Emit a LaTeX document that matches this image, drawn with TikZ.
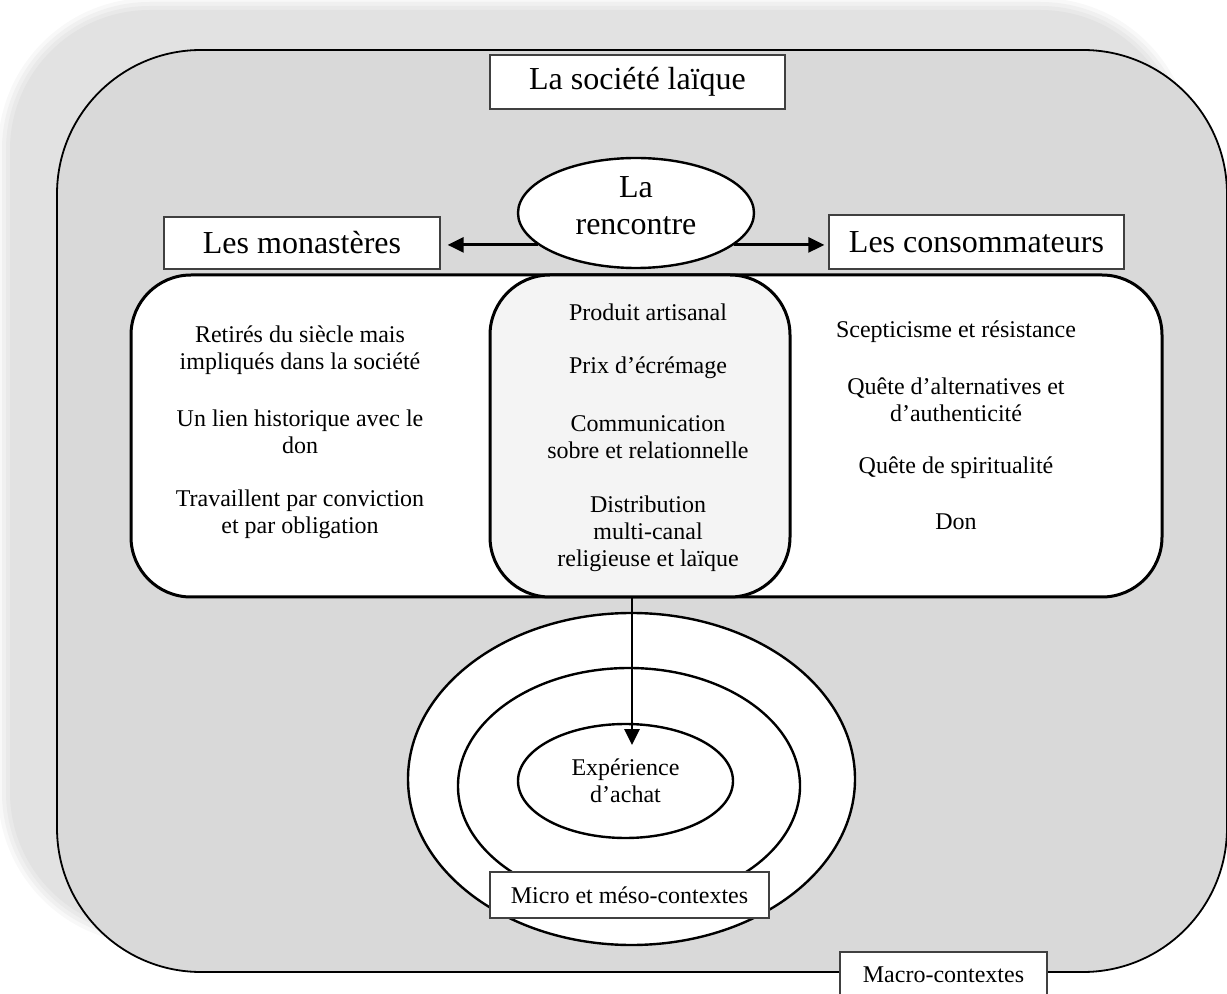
\documentclass[tikz,border=0pt]{standalone}
\usepackage{fontspec}
\setmainfont{Liberation Serif}
\usetikzlibrary{shapes.geometric,arrows.meta}
\definecolor{shadowgray}{HTML}{E2E2E2}
\definecolor{maingray}{HTML}{D9D9D9}
\definecolor{centerfill}{HTML}{F4F4F4}
\begin{document}
\begin{tikzpicture}[x=0.5pt,y=-0.5pt,
  lbl/.style={draw=black!75, line width=0.6pt, fill=white, inner sep=0pt, font=\fontsize{16}{19}\selectfont},
  smalllbl/.style={draw=black!75, line width=0.6pt, fill=white, inner sep=0pt, font=\fontsize{12}{13.6}\selectfont},
  txt/.style={align=center, inner sep=0pt, font=\fontsize{12}{13.6}\selectfont},
  ring/.style={ellipse, draw=black, line width=1.2pt, fill=white, inner sep=0pt},
  panel/.style={draw=black, line width=1.5pt, rounded corners=30pt, inner sep=0pt, minimum height=161pt},
  shadowlayer/.style={inner sep=0pt, minimum width=#1, fill=shadowgray},
  arr/.style={line width=1.4pt, -{Triangle[length=8pt,width=7.5pt]}}]
\useasboundingbox (0,0) rectangle (1227,994);
\clip (0,0) rectangle (1227,994);
% soft shadow
\node[inner sep=0pt, fill=shadowgray!25, rounded corners=76pt, minimum width=597pt, minimum height=473pt] (sh1) at (595,471) {};
\node[inner sep=0pt, fill=shadowgray!50, rounded corners=74pt, minimum width=593pt, minimum height=469pt] (sh2) at (595,471) {};
\node[inner sep=0pt, fill=shadowgray!75, rounded corners=72pt, minimum width=589pt, minimum height=465pt] (sh3) at (595,471) {};
\node[inner sep=0pt, fill=shadowgray, rounded corners=70pt, minimum width=585pt, minimum height=461pt] (shad) at (595,471) {};
% main area
\node[draw=black, line width=0.9pt, fill=maingray, rounded corners=72pt, minimum width=585pt, minimum height=461pt, inner sep=0pt] (macro) at (642,511) {};
% title
\node[lbl, minimum width=147.5pt, minimum height=27pt] (soc) at (637.5,82) {La société laïque};
% panels
\node[panel, fill=white, minimum width=515.5pt] (big) at (646.5,436) {};
\node[panel, fill=centerfill, minimum width=150pt] (cent) at (640,436) {};
% meeting
\node[ring, minimum width=118pt, minimum height=55pt] (renc) at (636,213) {};
\node[align=center, inner sep=0pt, font=\fontsize{16}{18.5}\selectfont] (renctxt) at (636,206) {La\\rencontre};
\node[lbl, minimum width=138pt, minimum height=26pt] (mon) at (302,243) {Les monastères};
\node[lbl, minimum width=147.5pt, minimum height=27pt] (cons) at (976.5,242) {Les consommateurs};
% left column
\node[txt] (l1) at (300,350) {Retirés du siècle mais\\impliqués dans la société};
\node[txt] (l2) at (300,432) {Un lien historique avec le\\don};
\node[txt] (l3) at (300,514) {Travaillent par conviction\\et par obligation};
% center column
\node[txt] (c1) at (648,312) {Produit artisanal};
\node[txt] (c2) at (648,368) {Prix d’écrémage};
\node[txt] (c3) at (648,437.5) {Communication\\sobre et relationnelle};
\node[txt] (c4) at (648,534) {Distribution\\multi-canal\\religieuse et laïque};
% right column
\node[txt] (r1) at (956,332) {Scepticisme et résistance};
\node[txt] (r2) at (956,399.5) {Quête d’alternatives et\\d’authenticité};
\node[txt] (r3) at (956,468) {Quête de spiritualité};
\node[txt] (r4) at (956,522) {Don};
% context ellipses
\node[ring, minimum width=223.5pt, minimum height=166pt] (outer) at (631.5,779) {};
\node[ring, minimum width=171pt, minimum height=118pt] (middle) at (629,786) {};
\node[ring, minimum width=107.5pt, minimum height=57pt, align=center, font=\fontsize{12}{13.6}\selectfont] (inner) at (625.5,781) {Expérience\\d’achat};
\node[smalllbl, minimum width=139.5pt, minimum height=23pt] (meso) at (629.5,895) {Micro et méso-contextes};
\node[smalllbl, minimum width=103.5pt, minimum height=23pt] (macrolbl) at (943.5,975) {Macro-contextes};
% arrows
\draw[arr, shorten >=3.5pt] (renc.198.4) -- (renc.198.4 -| mon.east);
\draw[arr, shorten >=2pt] (renc.-18.4) -- (renc.-18.4 -| cons.west);
\coordinate (dend) at (632,745);
\draw[arr] (cent.south -| dend) -- (dend);
\end{tikzpicture}
\end{document}
